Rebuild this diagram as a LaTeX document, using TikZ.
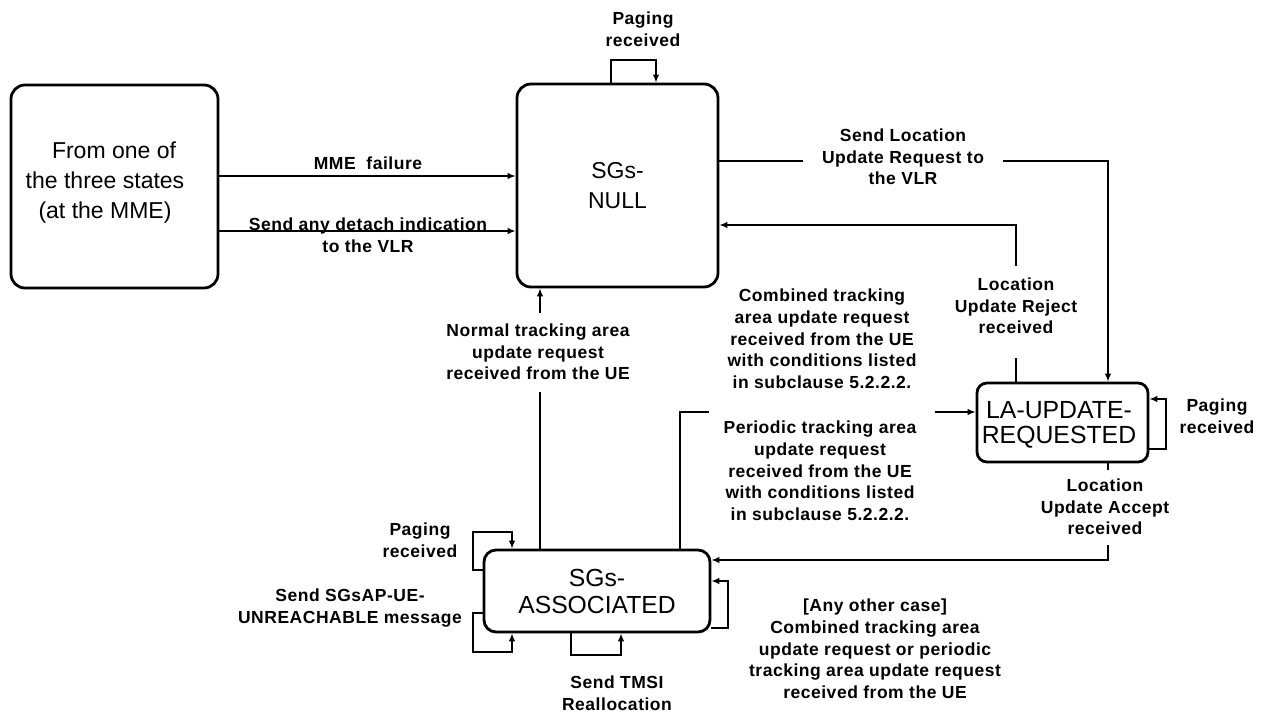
\documentclass[tikz,border=0pt]{standalone}
\usepackage{fontspec}
\setmainfont{Liberation Sans}
\usetikzlibrary{arrows.meta}
\tikzset{
  state/.style={draw, line width=2.8pt, rounded corners=14pt, align=center, inner sep=0pt},
  big/.style={font=\fontsize{23}{30}\selectfont, align=center, inner sep=0pt},
  lbl/.style={font=\bfseries\fontsize{17.5}{21.7}\selectfont\addfontfeatures{LetterSpace=3}, align=center, inner sep=0pt},
  conn/.style={line width=1.4pt},
  arr/.style={conn, -{Latex[length=8pt,width=6.5pt]}},
}
\begin{document}
\begin{tikzpicture}[x=1pt,y=-1pt]
\useasboundingbox (0,0) rectangle (1262,713);
% states
\node[state, minimum width=207pt, minimum height=203pt] (src) at (114.5,186.5) {};
\node[big] (srctext) at (105,183) {\hspace*{18pt}From one of\\the three states\\(at the MME)};
\node[state, big, minimum width=201pt, minimum height=203pt] (null) at (617.5,185.5) {SGs-\\NULL};
\node[state, minimum width=171pt, minimum height=79pt, rounded corners=10pt] (la) at (1062.5,422.5) {};
\node[align=center, inner sep=0pt, font=\fontsize{24.8}{25}\selectfont] (latext) at (1059,425) {LA-UPDATE-\\REQUESTED};
\node[state, minimum width=226pt, minimum height=82pt, rounded corners=12pt, font=\fontsize{24.7}{27}\selectfont] (assoc) at (597,591) {SGs-\\ASSOCIATED};
% gap ends
\coordinate (slA) at (803,161);
\coordinate (slB) at (1003,161);
\coordinate (rjA) at (1016,358);
\coordinate (rjB) at (1016,266);
\coordinate (peA) at (709,412);
\coordinate (peB) at (935,412);
\coordinate (acA) at (1108,470);
\coordinate (acB) at (1108,545);
\coordinate (noA) at (540,392);
\coordinate (noB) at (540,313);
% connectors
\draw[arr] (src.east |- 0,176) -- (null.west |- 0,176);
\draw[arr] (src.east |- 0,231) -- (null.west |- 0,231);
\draw[arr] (null.north -| 611,0) |- (656,60) -- (null.north -| 656,0);
\draw[conn] (null.east |- slA) -- (slA);
\draw[arr] (slB) -| (la.north -| 1108,0);
\draw[conn] (la.north -| rjA) -- (rjA);
\draw[arr] (rjB) |- (null.east |- 0,225);
\draw[conn] (assoc.north -| 680,0) |- (peA);
\draw[arr] (peB) -- (la.west |- peB);
\draw[arr] (la.east |- 0,449) -| (1166,399) -- (la.east |- 0,399);
\draw[conn] (la.south -| acA) -- (acA);
\draw[arr] (acB) |- (assoc.east |- 0,560);
\draw[conn] (assoc.north -| noA) -- (noA);
\draw[arr] (noB) -- (null.south -| noB);
\draw[arr] (assoc.east |- 0,628) -| (728,581) -- (assoc.east |- 0,581);
\draw[arr] (assoc.west |- 0,570) -| (473,532) -| (assoc.north -| 512,0);
\draw[arr] (assoc.west |- 0,613) -| (473,652) -| (assoc.south -| 512,0);
\draw[arr] (assoc.south -| 571,0) |- (621,655) -- (assoc.south -| 621,0);
% labels
\node[lbl] (lpg1) at (643,29) {Paging\\received};
\node[lbl] (lmme) at (368,163) {MME\ \ failure};
\node[lbl] (ldet) at (368,235) {Send any detach indication\\to the VLR};
\node[lbl] (lsl) at (903,157) {Send Location\\Update Request to\\the VLR};
\node[lbl] (lrj) at (1016,306) {Location\\Update Reject\\received};
\node[lbl] (lcb) at (822,339) {Combined tracking\\area update request\\received from the UE\\with conditions listed\\in subclause 5.2.2.2.};
\node[lbl] (lpe) at (820,471) {Periodic tracking area\\update request\\received from the UE\\with conditions listed\\in subclause 5.2.2.2.};
\node[lbl] (lno) at (538,352) {Normal tracking area\\update request\\received from the UE};
\node[lbl] (lpg2) at (1217,416) {Paging\\received};
\node[lbl] (lac) at (1105,507) {Location\\Update Accept\\received};
\node[lbl] (lpg3) at (420,540) {Paging\\received};
\node[lbl] (lun) at (350,608) {Send SGsAP-UE-\\UNREACHABLE message};
\node[lbl] (ltm) at (617,693) {Send TMSI\\Reallocation};
\node[lbl] (lany) at (875,649) {[Any other case]\\Combined tracking area\\update request or periodic\\tracking area update request\\received from the UE};
\end{tikzpicture}
\end{document}
